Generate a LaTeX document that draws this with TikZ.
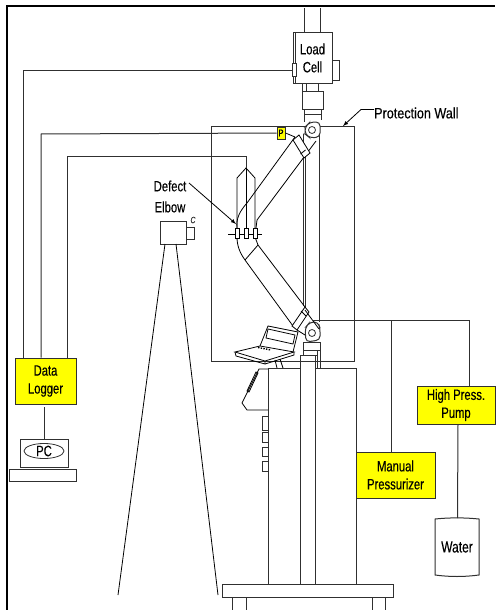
\documentclass[tikz,border=0pt]{standalone}
\usepackage{fontspec}
\usetikzlibrary{shapes.geometric,arrows.meta}
\setmainfont[FakeStretch=0.75,FakeBold=0.25]{Liberation Sans}
\newfontfamily\widerfont[FakeStretch=0.84,FakeBold=0.25]{Liberation Sans}
\definecolor{lbl}{HTML}{FFFF00}
\definecolor{ln}{HTML}{303030}
\tikzset{
  wire/.style={draw=ln,line width=1pt},
  thin line/.style={draw=black,line width=0.8pt},
  yellowbox/.style={draw=ln,fill=lbl,line width=1pt,inner sep=0pt,align=center,font=\fontsize{15}{18}\selectfont},
  plainbox/.style={draw=ln,line width=1pt,inner sep=0pt,align=center,font=\fontsize{15}{18}\selectfont},
  lab/.style={inner sep=0pt,align=center,font=\fontsize{15}{21}\selectfont},
  btn/.style={draw=ln,line width=0.9pt,fill=white},
}
\begin{document}
\begin{tikzpicture}[x=1pt,y=-1pt]
\useasboundingbox (0,0) rectangle (495,610);
\fill[white] (0,0) rectangle (495,610);
% outer frame
\draw[black,line width=2pt] (7,610) -- (7,6) -- (495,6);
% protection wall
\draw[wire] (211,126) rectangle (354,361);
% camera stand
\node[plainbox,minimum width=26pt,minimum height=23pt] (cam) at (173,232.5) {};
\node[plainbox,minimum width=8pt,minimum height=12pt] (lens) at (190,233) {};
\node[inner sep=0pt,text=ln,font=\fontsize{9}{9}\selectfont\itshape] (clabel) at (193,220) {C};
\coordinate (legLa) at (165,244); \coordinate (legLb) at (118,595);
\coordinate (legRa) at (176,244); \coordinate (legRb) at (218,595);
\draw[thin line] (legLa) -- (legLb) (legRa) -- (legRb);
% machine base
\draw[wire] (268.5,584) -- (268.5,368) -- (300,368) (315,368) -- (356,368) -- (356,584);
\draw[wire] (300.5,584) -- (300.5,355.5) -- (315,355.5) -- (315,584);
% table
\node[plainbox,minimum width=171pt,minimum height=13pt] (table) at (307.5,591) {};
\draw[wire] (232,597.5) -- (232,610) (246,597.5) -- (246,610) (372,597.5) -- (372,610) (385,597.5) -- (385,610);
% column lines
\draw[wire] (303,134) -- (303,306) (305.5,146) -- (305.5,310);
\draw[wire] (319.5,126) -- (319.5,322);
% load cell
\draw[wire] (304,33) -- (304,8) (320,8) -- (320,33);
\node[plainbox,minimum width=39pt,minimum height=50pt] (load) at (312.5,58) {Load\\Cell};
\draw[wire] (295,33) -- (295,83);
\draw[wire] (332,61) -- (339,61) -- (339,80) -- (332,80);
\draw[wire,fill=white] (292,64) rectangle (296,76);
\draw[wire] (302,83) -- (302,91) (306,83) -- (306,91) (318,83) -- (318,91);
\draw[wire] (302,91) rectangle (323,109);
\draw[wire] (304,109) -- (304,122) (321,109) -- (321,120) (304,114) -- (321,114);
% upper joint
\draw[wire,fill=white,rounded corners=4pt] (305,127) -- (310,122) -- (320,122) -- (320,137) -- (310,138) -- (305,134) -- cycle;
\node[draw=ln,circle,line width=0.8pt,minimum size=7pt,inner sep=0pt] (jointU) at (312,130) {};
% elbow
\draw[thin line] (295,137) -- (247,203) .. controls (240,211) and (236,218) .. (237,228)
   (237,237) .. controls (237,246) and (240,253) .. (245,260) -- (293,326);
\draw[thin line] (316,141) -- (257,220) -- (256,228)
   (255,237) -- (258,245) -- (305,307);
\draw[thin line] (245,260) -- (258,245);
% defect branch
\draw[thin line] (237,228) -- (237,178) -- (246,168) -- (255,178) -- (255,228);
\draw[thin line] (246,168) -- (246,228);
\draw[thin line] (228,234) -- (262,234);
\foreach \xx in {237,246,255} \draw[thin line,fill=white] (\xx-2,228) rectangle (\xx+2,238);
% clamps
\draw[thin line,fill=white] (293,140) -- (299,135) -- (310,153) -- (304,158) -- cycle;
\draw[thin line] (305.5,150) -- (300.5,154);
\draw[thin line,fill=white] (292,326) -- (305,307) -- (309,312) -- (297,330) -- cycle;
\draw[thin line] (301,311) -- (306,316);
% lower joint
\draw[wire,fill=white,rounded corners=4pt] (305,328) -- (310,322) -- (318,322) -- (320,328) -- (320,340) -- (306,342) -- cycle;
\node[draw=ln,circle,line width=0.8pt,minimum size=7pt,inner sep=0pt] (jointL) at (312,333) {};
\draw[thin line] (305,310) -- (319,329) (297,330) -- (305,335);
\draw[wire,fill=white] (303,342) rectangle (320,350);
\draw[wire] (303,350) rectangle (317,355.5);
\draw[wire] (317,355) -- (317,368) (320,350) -- (320,368);
% laptop
\draw[thin line,fill=white] (235,352) -- (260,346) -- (294,352) -- (265,361) -- cycle;
\draw[thin line] (235,352) -- (236,356) -- (265,364) -- (265,361) (265,364) -- (294,355) -- (294,352);
\draw[thin line] (260,346) -- (268,326) -- (298,332) -- (293,352);
\draw[thin line] (268,329) -- (295,335) -- (293,344) -- (266,338) -- cycle;
\draw[line width=1.4pt,dash pattern=on 1.5pt off 1.2pt] (258,347.5) -- (271,350);
\draw[thin line] (275,360) -- (277,368) (280,359) -- (283,368);
% panel
\draw[thin line] (268,369) -- (259,369) -- (242,403) -- (247,410) -- (268,410);
\draw[thin line] (256,372) -- (247,391) -- (249,392) -- (258,373) -- cycle;
\foreach \ya/\yb in {416/430,432/442,447/456,461/471} \draw[btn] (262,\ya) rectangle (268,\yb);
% wall-top arrow
\node[lab,anchor=west,font=\widerfont\fontsize{15}{19}\selectfont] (wall) at (374,113) {Protection Wall};
\coordinate (wallb) at (361,109.5); \coordinate (wallt) at (343,126);
\draw[thin line,-latex] (wall.west |- wallb) -- (wallb) -- (wallt);
% defect label
\node[lab] (defect) at (170,196.5) {Defect\\Elbow};
\coordinate (defa) at (189,183); \coordinate (defb) at (236,224);
\draw[thin line,-latex] (defa) -- (defb);
% P sensor
\node[yellowbox,minimum width=8pt,minimum height=12pt,font=\fontsize{10}{10}\selectfont] (P) at (281,133) {P};
\coordinate (Pt) at (295,137);
\draw[thin line] (P.east) -- (Pt);
% data logger
\node[yellowbox,minimum width=61pt,minimum height=46pt] (logger) at (45.5,381) {Data\\Logger};
\node[plainbox,minimum width=48pt,minimum height=28pt] (pc) at (44,453) {};
\node[draw=ln,ellipse,line width=0.8pt,minimum width=40pt,minimum height=14pt,inner sep=0pt,font=\fontsize{15}{15}\selectfont] (pcname) at (44,451) {PC};
\node[plainbox,minimum width=67pt,minimum height=12pt] (pcbase) at (42.5,475) {};
\coordinate (lpa) at (44.5,407);
\draw[wire] (lpa) -- (lpa |- pc.north);
\coordinate (t1) at (23,70); \coordinate (t2) at (41,134); \coordinate (t3) at (67,156); \coordinate (t3b) at (246,156);
\draw[wire] (t1 |- logger.north) -- (t1) -- (292,70);
\draw[wire] (t2 |- logger.north) -- (t2) -- (P.west);
\draw[wire] (t3 |- logger.north) -- (t3) -- (t3b) -- (246,168);
% right side
\node[yellowbox,minimum width=78pt,minimum height=38pt] (pump) at (456,405) {High Press.\\Pump};
\node[yellowbox,minimum width=79pt,minimum height=46pt] (man) at (395.5,475) {Manual\\Pressurizer};
\node[plainbox,draw=none,minimum width=44pt,minimum height=58pt,font=\fontsize{16}{18}\selectfont] (water) at (457,547) {Water};
\draw[wire] (435,519) .. controls (450,517.5) and (464,517.5) .. (479,519) -- (479,575) .. controls (464,577) and (450,577) .. (435,575) -- cycle;
\coordinate (h0) at (312,320); \coordinate (h1) at (391,320); \coordinate (h2) at (469,320);
\draw[wire] (h0) -- (h2) -- (h2 |- pump.north);
\draw[wire] (h1) -- (h1 |- man.north);
\coordinate (ps) at (458,424);
\draw[wire] (ps) -- (457.5,518);
\end{tikzpicture}
\end{document}
